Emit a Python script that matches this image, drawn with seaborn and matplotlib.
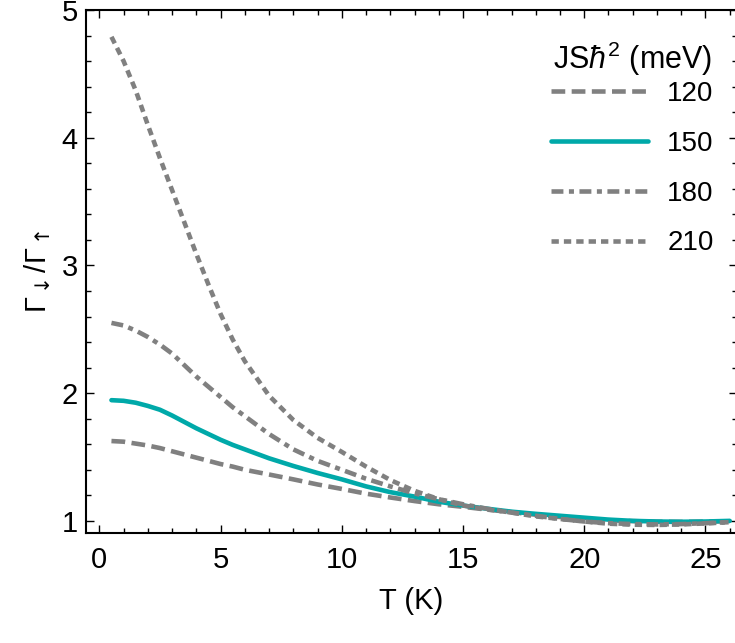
import numpy as np
import pandas as pd
import matplotlib
matplotlib.use("Agg")
import matplotlib.pyplot as plt
import seaborn as sns
from matplotlib.ticker import MultipleLocator

# values
T = [0.5, 1, 1.5, 2, 2.5, 3, 3.5, 4, 4.5, 5, 5.5, 6, 7, 8, 9, 10,
     11, 12, 13, 14, 15, 16, 17, 18, 19, 20, 21, 22, 23, 24, 25, 26]

r120 = [1.625, 1.62, 1.605, 1.59, 1.57, 1.545, 1.52, 1.495, 1.47, 1.445,
        1.425, 1.40, 1.363, 1.325, 1.285, 1.25, 1.213, 1.183, 1.155, 1.13,
        1.11, 1.088, 1.068, 1.048, 1.03, 1.015, 1.005, 0.998, 0.993, 0.992,
        0.994, 0.997]
r150 = [1.945, 1.94, 1.925, 1.90, 1.87, 1.825, 1.775, 1.725, 1.68, 1.635,
        1.595, 1.56, 1.49, 1.43, 1.375, 1.325, 1.27, 1.225, 1.19, 1.15,
        1.12, 1.095, 1.072, 1.055, 1.04, 1.025, 1.01, 1.0, 0.995, 0.993,
        0.995, 1.0]
r180 = [2.55, 2.53, 2.49, 2.44, 2.38, 2.31, 2.22, 2.13, 2.05, 1.97,
        1.89, 1.82, 1.68, 1.56, 1.47, 1.40, 1.33, 1.27, 1.215, 1.17,
        1.13, 1.095, 1.065, 1.04, 1.015, 0.995, 0.982, 0.975, 0.972, 0.975,
        0.982, 0.99]
r210 = [4.79, 4.60, 4.37, 4.10, 3.84, 3.59, 3.34, 3.09, 2.85, 2.62,
        2.42, 2.25, 1.98, 1.79, 1.65, 1.54, 1.425, 1.32, 1.235, 1.17,
        1.12, 1.09, 1.065, 1.035, 1.015, 0.995, 0.978, 0.97, 0.968, 0.972,
        0.98, 0.99]

labels = ["120", "150", "180", "210"]
series = [r120, r150, r180, r210]

df = pd.concat([pd.DataFrame({"T": T, "ratio": s, "J": lab})
                for lab, s in zip(labels, series)], ignore_index=True)

sns.set_theme(style="ticks")
plt.rcParams["font.family"] = ["Liberation Sans", "DejaVu Sans"]
plt.rcParams["text.color"] = "black"
plt.rcParams["axes.labelcolor"] = "black"
plt.rcParams["xtick.color"] = "black"
plt.rcParams["ytick.color"] = "black"
plt.rcParams["mathtext.fontset"] = "custom"
plt.rcParams["mathtext.rm"] = "Liberation Sans"
plt.rcParams["mathtext.it"] = "Liberation Sans:italic"
plt.rcParams["mathtext.bf"] = "Liberation Sans:bold"
plt.rcParams["mathtext.sf"] = "DejaVu Sans"

gray = "#808080"
teal = "#00a9a9"
palette = {"120": gray, "150": teal, "180": gray, "210": gray}
dashes = {"120": (3.0, 1.4), "150": "", "180": (2.6, 1.2, 1.1, 1.2),
          "210": (1.6, 1.1)}

fig = plt.figure(figsize=(7.35, 6.43), dpi=100)
ax = fig.add_axes([86 / 735, 1 - 533 / 643, (737 - 86) / 735, (533 - 10) / 643])

sns.lineplot(data=df, x="T", y="ratio", hue="J", style="J", palette=palette,
             dashes=dashes, linewidth=3.3, legend=False, ax=ax, sort=False)

ax.set_xlim(-0.55, 26.3)
ax.set_ylim(0.905, 5.0)
ax.xaxis.set_major_locator(MultipleLocator(5))
ax.xaxis.set_minor_locator(MultipleLocator(1))
ax.yaxis.set_major_locator(MultipleLocator(1))
ax.yaxis.set_minor_locator(MultipleLocator(0.2))
ax.tick_params(which="both", direction="in", top=True, right=True,
               width=1.0, color="black", labelsize=21, labelcolor="black")
ax.tick_params(which="major", length=6)
ax.tick_params(which="minor", length=3.5)
ax.tick_params(axis="y", pad=6)
ax.tick_params(axis="x", pad=9)
for sp in ax.spines.values():
    sp.set_linewidth(1.5)
    sp.set_color("black")

ax.set_xlabel("T (K)", fontsize=21, labelpad=10)
ax.set_ylabel(r"$\Gamma_{\mathsf{\downarrow}}/\Gamma_{\mathsf{\uparrow}}$",
              fontsize=21, labelpad=6)

leg = ax.legend(handles=ax.lines[:4], labels=labels,
                title=r"JS$\hbar^2$ (meV)", loc="upper right",
                bbox_to_anchor=(0.99, 0.975), frameon=False, fontsize=20,
                title_fontsize=22, handlelength=3.5, handletextpad=0.7,
                labelspacing=0.86, borderaxespad=0.2)
leg._legend_box.sep = 2

fig.savefig("out.png", dpi=100)
